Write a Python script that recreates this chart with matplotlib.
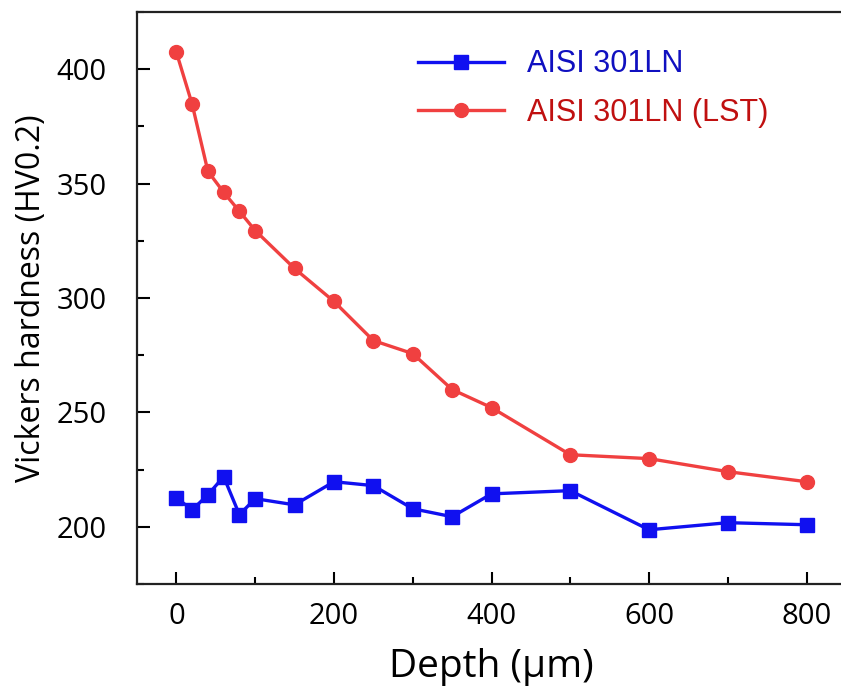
import matplotlib.pyplot as plt
from matplotlib.ticker import MultipleLocator

# Depth (um) and hardness values
depth = [0, 20, 40, 60, 80, 100, 150, 200, 250, 300, 350, 400, 500, 600, 700, 800]
hv_base = [212.7, 207.4, 214.0, 221.9, 205.3, 212.3, 209.6, 219.7, 218.0, 207.9,
           204.4, 214.4, 215.8, 198.7, 201.8, 200.9]
hv_lst = [407.4, 384.7, 355.4, 346.2, 337.9, 329.5, 312.9, 298.5, 281.4, 275.7,
          260.0, 252.1, 231.5, 229.8, 224.1, 219.7]
labels = ['AISI 301LN', 'AISI 301LN (LST)']

fig = plt.figure(figsize=(8.41, 6.95), dpi=100)
ax = fig.add_axes([137 / 841, 111 / 695, (846 - 137) / 841, (584 - 12) / 695])

ax.plot(depth, hv_base, color='#1010F0', marker='s', markersize=9.5, linewidth=2.4,
        label=labels[0])
ax.plot(depth, hv_lst, color='#F04040', marker='o', markersize=10, linewidth=2.4,
        label=labels[1])

ax.set_xlim(-50, 850)
ax.set_ylim(175, 425)
ax.xaxis.set_major_locator(MultipleLocator(200))
ax.xaxis.set_minor_locator(MultipleLocator(100))
ax.yaxis.set_major_locator(MultipleLocator(50))
ax.yaxis.set_minor_locator(MultipleLocator(25))
ax.tick_params(which='major', direction='in', length=9, width=1.5, labelsize=21)
ax.tick_params(axis='x', which='major', pad=13)
ax.tick_params(axis='y', which='major', pad=22)
ax.tick_params(which='minor', direction='in', length=5, width=1.5)
for lab in ax.get_xticklabels() + ax.get_yticklabels():
    lab.set_family('Open Sans')
for s in ax.spines.values():
    s.set_linewidth(1.6)
    s.set_color('#222222')

ax.set_xlabel('Depth (μm)', fontsize=28, family='Open Sans', labelpad=12)
ax.set_ylabel('Vickers hardness (HV0.2)', fontsize=23, family='Open Sans')
ax.yaxis.set_label_coords(-0.125, 0.5)

leg = ax.legend(loc='upper left', bbox_to_anchor=(403 / 841, 1 - 34 / 695),
                bbox_transform=fig.transFigure, frameon=False,
                prop={'family': 'Liberation Sans', 'size': 22},
                handlelength=2.8, handletextpad=0.75, labelspacing=0.6, borderpad=0)
for t, c in zip(leg.get_texts(), ['#1010C0', '#C01010']):
    t.set_color(c)

fig.savefig('out.png', dpi=100)
